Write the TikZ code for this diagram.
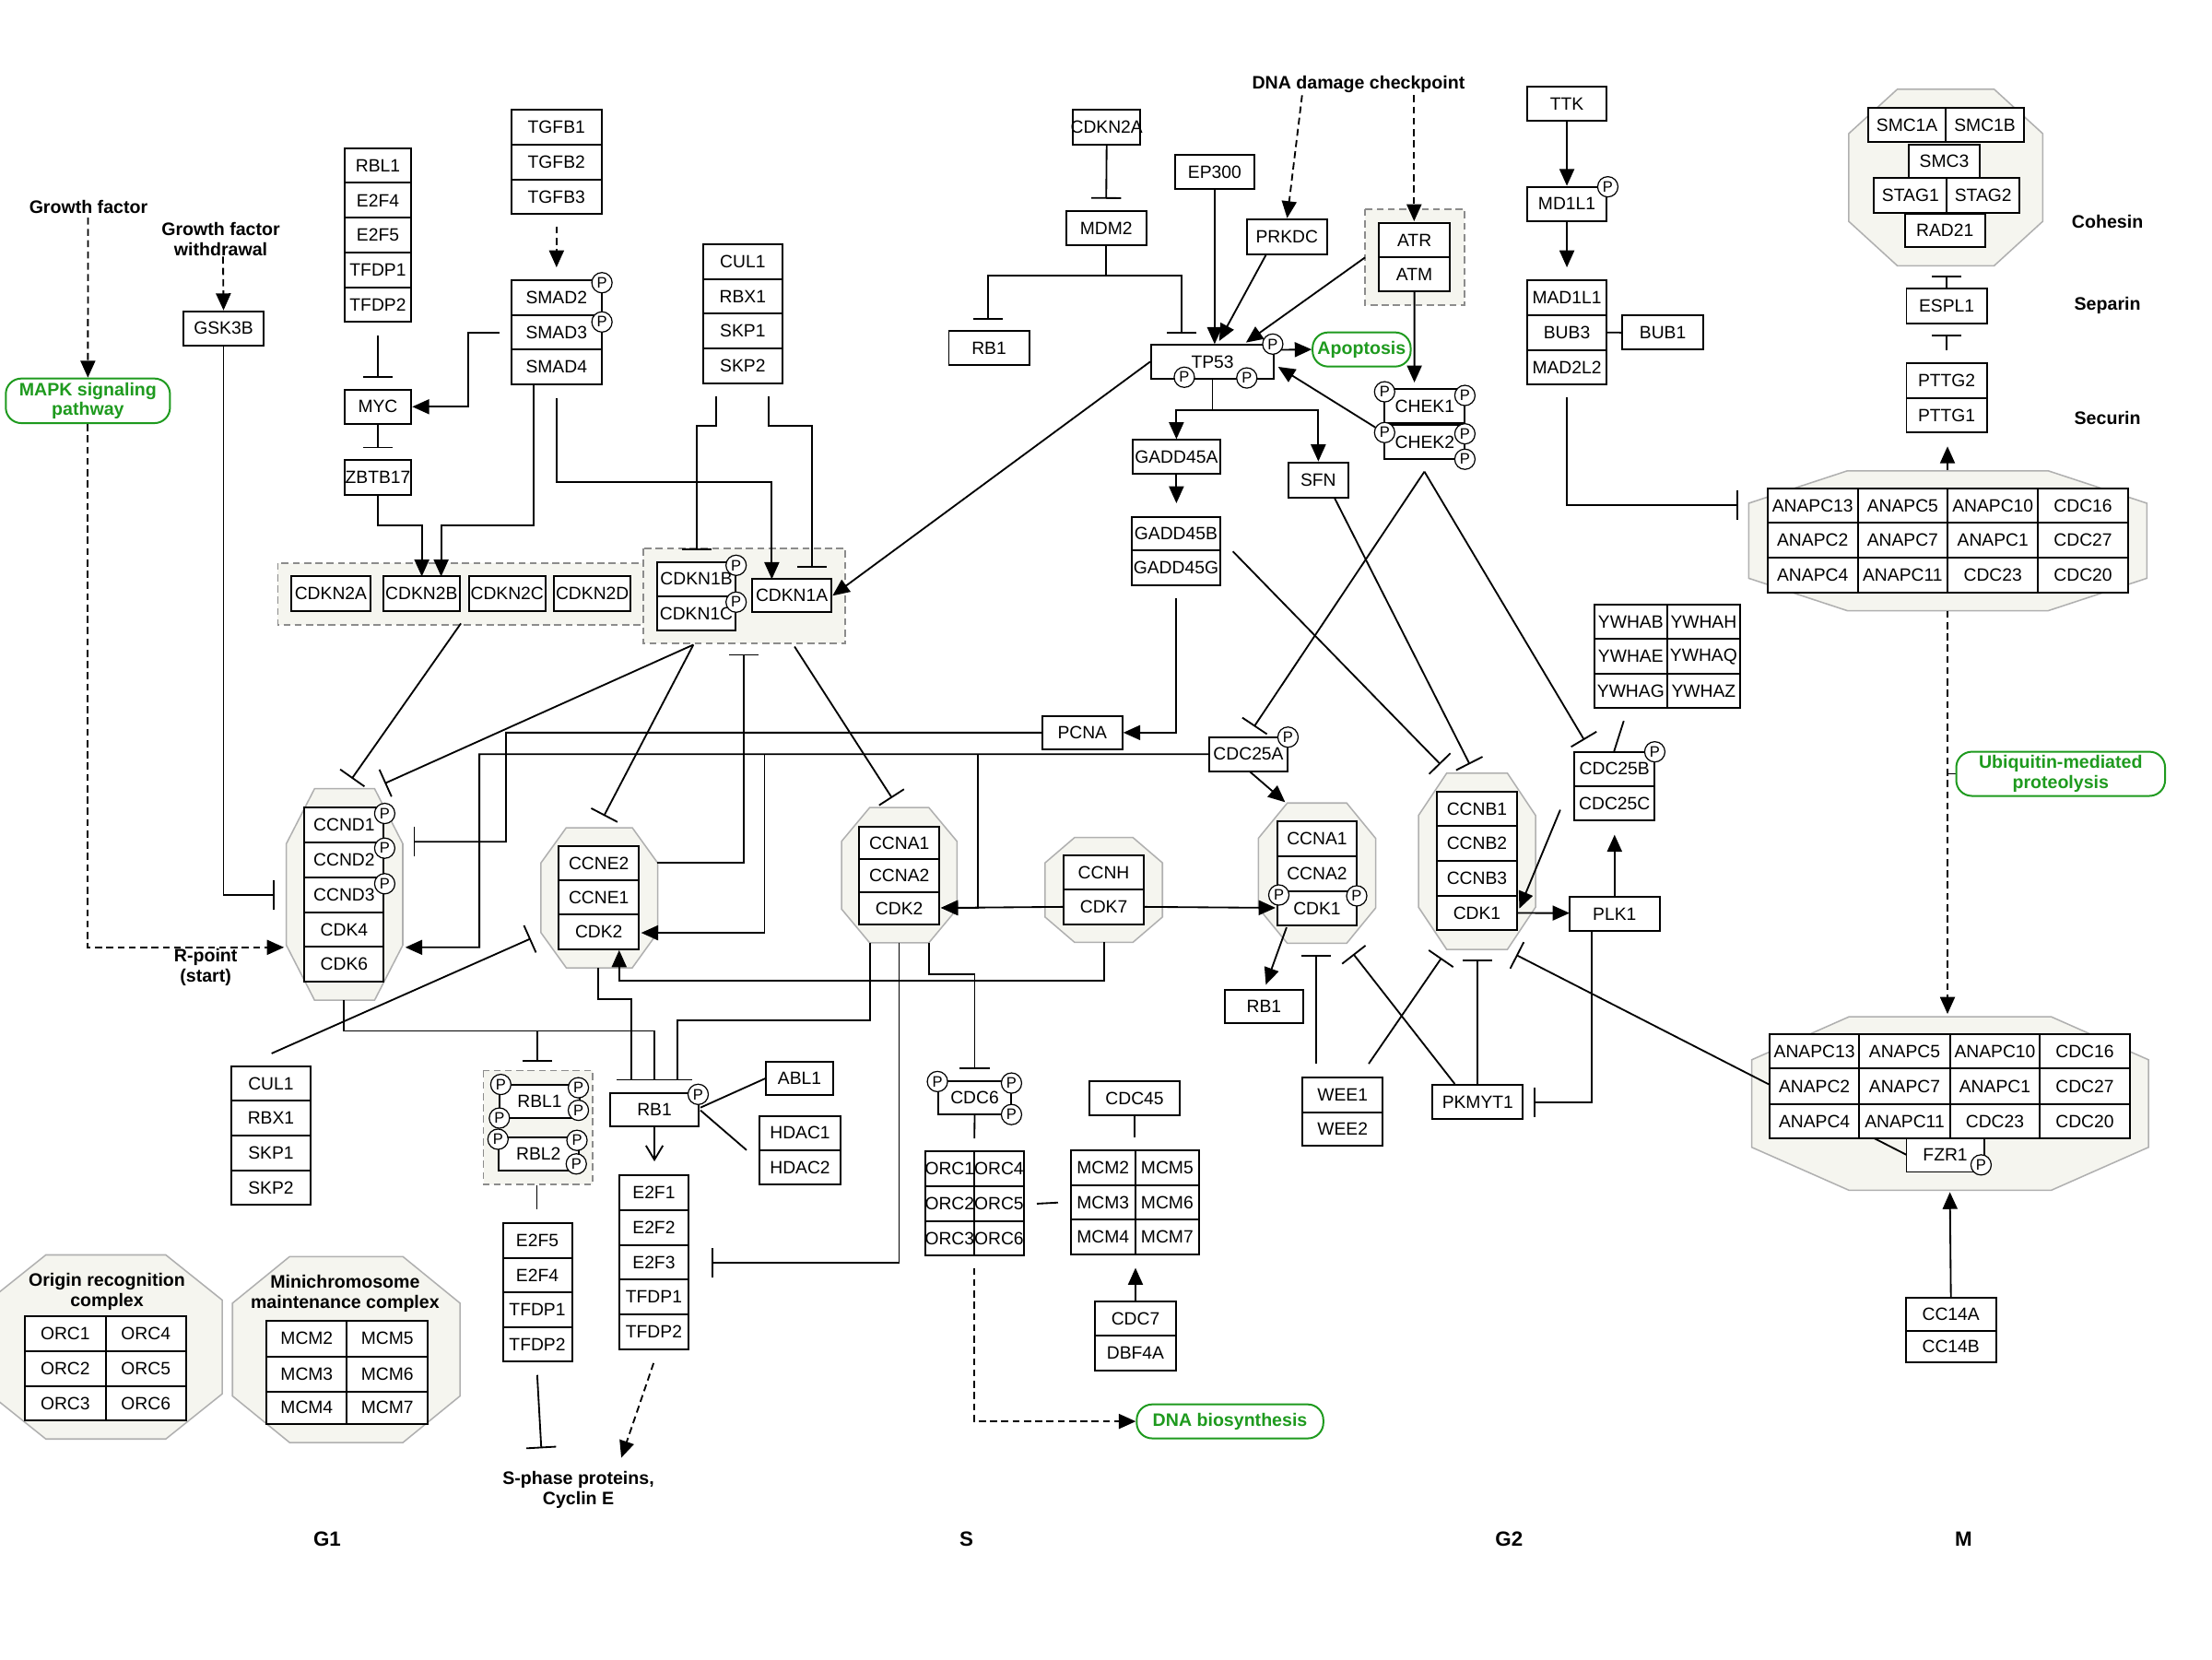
\documentclass[tikz,border=0pt]{standalone}
\usepackage{fontspec}
\setmainfont{Liberation Sans}
\usetikzlibrary{arrows.meta,calc}
\pgfdeclarelayer{bg}\pgfdeclarelayer{mid}\pgfsetlayers{bg,mid,main}
\definecolor{cfill}{HTML}{F5F5EF}
\definecolor{cedge}{HTML}{B0B0B0}
\definecolor{gedge}{HTML}{8C8C8C}
\definecolor{kgreen}{HTML}{1E9A1E}
\newcommand\kgfont{\fontsize{12.6}{14}\selectfont}
\newcommand\kgbold{\fontsize{12.8}{14.2}\selectfont\bfseries}
\newcommand\kgphase{\fontsize{14.6}{16}\selectfont\bfseries}
\newcommand\kgpf{\fontsize{10.8}{11}\selectfont}
\newcommand\kgb[6]{%
  \pgfmathsetmacro\kgW{#4-#2}\pgfmathsetmacro\kgH{#5-#3}%
  \node[gene, minimum width=\kgW pt, minimum height=\kgH pt] (#1) at ({(#2+#4)/2},{(#3+#5)/2}) {\makebox[0pt]{#6}};}
\newcommand\kgoct[6]{%
  \path[cpx] ({#1+#5},#2) -- ({#3-#5},#2) -- (#3,{#2+#6}) -- (#3,{#4-#6}) -- ({#3-#5},#4) -- ({#1+#5},#4) -- (#1,{#4-#6}) -- (#1,{#2+#6}) -- cycle;}
\newcommand\kgp[3]{\node[phos] (#1) at (#2,#3) {P};}
\tikzset{
  gene/.style={draw, line width=1.3pt, fill=white, inner sep=0pt, font=\kgfont},
  conn/.style={line width=1.2pt},
  act/.style={conn, -{Triangle[length=12pt,width=10.5pt]}},
  inh/.style={conn, -{Bar[width=21pt]}},
  dact/.style={act, dash pattern=on 5pt off 3pt},
  oact/.style={conn, -{Straight Barb[length=10pt,width=12pt]}},
  phos/.style={circle, draw, line width=0.8pt, fill=white, minimum size=14.4pt, inner sep=0pt, font=\kgpf},
  grp/.style={draw=gedge, line width=1.1pt, dash pattern=on 5pt off 3pt, fill=cfill},
  cpx/.style={draw=cedge, line width=1pt, fill=cfill},
  pathw/.style={draw=kgreen, line width=1.3pt, rounded corners=11pt, fill=white, text=kgreen, font=\kgbold, align=center, inner sep=0pt},
  lab/.style={font=\kgbold, align=center, inner sep=0pt},
  phase/.style={font=\kgphase, inner sep=0pt}
}
\begin{document}
\begin{tikzpicture}[x=1pt,y=-1pt]
\useasboundingbox (0,0) rectangle (1568,1176);
% ---------------- complexes / groups
\begin{pgfonlayer}{bg}
\fill[white] (0,0) rectangle (1568,1176);
\kgoct{203}{559}{285.5}{709}{20}{39}
\kgoct{383.4}{586.7}{466.2}{686}{18}{25}
\kgoct{596.5}{572.4}{678.4}{668.3}{20}{24}
\kgoct{740.8}{593.6}{824}{668}{21}{18}
\kgoct{892}{569.2}{975.1}{668.6}{20.5}{25}
\kgoct{1005.5}{548}{1088.5}{673}{20}{30}
\kgoct{1310.5}{63.2}{1448}{188.4}{34.5}{31.5}
\kgoct{1239.6}{333.7}{1521.8}{432.9}{70}{23}
\kgoct{1241.7}{720.7}{1523}{843.7}{69}{30.5}
\kgoct{-7.5}{889.5}{157.5}{1020}{40}{32}
\kgoct{164.8}{890.7}{326.1}{1022.5}{40.5}{33}
\path[grp] (196.9,399) rectangle (456.7,443);
\path[grp] (455.8,388.7) rectangle (599.3,456.2);
\path[grp] (967.6,148.1) rectangle (1038,216.3);
\path[grp] (342.7,758.8) rectangle (420,839.6);
\end{pgfonlayer}
% ---------------- labels
\node[lab] (gf) at (62.7,146.4) {Growth factor};
\node[lab] (gfw) at (156.5,169.3) {Growth factor\\withdrawal};
\node[lab] (rpt) at (145.8,685.6) {R-point\\(start)};
\node[lab] (dnad) at (963,60) {DNA damage checkpoint};
\node[lab] (sph) at (410,1056) {S-phase proteins,\\Cyclin E};
\node[lab] (coh) at (1493.9,156.8) {Cohesin};
\node[lab] (sep) at (1493.9,216.7) {Separin};
\node[lab] (sec) at (1493.9,296.2) {Securin};
\node[lab] (orct) at (75.8,915.5) {Origin recognition\\complex};
\node[lab] (mcmt) at (244.6,917) {Minichromosome\\maintenance complex};
\node[phase] (pgA) at (231.9,1091.2) {G1};
\node[phase] (pgB) at (685,1091.2) {S};
\node[phase] (pgC) at (1069.7,1091.2) {G2};
\node[phase] (pgD) at (1391.8,1091.2) {M};
\node[pathw, minimum width=116.4pt, minimum height=31.6pt] (mapk) at (62.3,284.1) {MAPK signaling\\pathway};
\node[pathw, minimum width=69.5pt, minimum height=24.2pt] (apop) at (965.2,247.7) {Apoptosis};
\node[pathw, minimum width=148pt, minimum height=31.3pt] (ubiq) at (1460.7,548.5) {Ubiquitin-mediated\\proteolysis};
\node[pathw, minimum width=132.3pt, minimum height=24.1pt] (dna) at (871.9,1007.5) {DNA biosynthesis};
% ---------------- genes: G1 top
\kgb{gsk}{130.2}{220.6}{186.7}{245}{GSK3B}
\kgb{rbla}{244.1}{105}{291.6}{129.6}{RBL1}
\kgb{efaa}{244.1}{129.6}{291.6}{154.3}{E2F4}
\kgb{efab}{244.1}{154.3}{291.6}{178.9}{E2F5}
\kgb{tfaa}{244.1}{178.9}{291.6}{203.6}{TFDP1}
\kgb{tfab}{244.1}{203.6}{291.6}{228.2}{TFDP2}
\kgb{myc}{244.1}{276.1}{291.6}{300.5}{MYC}
\kgb{zbtb}{244.1}{326.2}{291.6}{350.6}{ZBTB17}
\kgb{tgfba}{362.5}{78}{426.4}{102.6}{TGFB1}
\kgb{tgfbb}{362.5}{102.6}{426.4}{127.2}{TGFB2}
\kgb{tgfbc}{362.5}{127.2}{426.4}{151.8}{TGFB3}
\kgb{smadb}{362.5}{198.8}{426.4}{223.3}{SMAD2}
\kgb{smadc}{362.5}{223.3}{426.4}{247.8}{SMAD3}
\kgb{smadd}{362.5}{247.8}{426.4}{272.2}{SMAD4}
\kgb{culta}{498.2}{173.1}{554.8}{197.7}{CUL1}
\kgb{rbxt}{498.2}{197.7}{554.8}{222.4}{RBX1}
\kgb{skpta}{498.2}{222.4}{554.8}{247}{SKP1}
\kgb{skptb}{498.2}{247}{554.8}{271.6}{SKP2}
\kgb{ckna}{206.5}{408.6}{262.5}{433.2}{CDKN2A}
\kgb{cknb}{271.8}{408.6}{325.8}{433.2}{CDKN2B}
\kgb{cknc}{332.5}{408.6}{386.5}{433.2}{CDKN2C}
\kgb{cknd}{392.7}{408.6}{447.1}{433.2}{CDKN2D}
\kgb{cdkib}{465.6}{398.5}{521.6}{422.5}{CDKN1B}
\kgb{cdkic}{465.6}{422.5}{521.6}{446.9}{CDKN1C}
\kgb{cdkia}{533.1}{410.5}{589.5}{434}{CDKN1A}
% ---------------- top middle
\kgb{cdkntop}{760.7}{78}{808.2}{102.4}{CDKN2A}
\kgb{mdm}{755.7}{149.6}{812.6}{173.6}{MDM2}
\kgb{rbtop}{672.6}{234.8}{729.5}{258.7}{RB1}
\kgb{ep}{832.7}{109.8}{889.3}{134}{EP300}
\kgb{prk}{884}{155.7}{940.5}{180.1}{PRKDC}
\kgb{atr}{977.2}{157.9}{1028}{182.3}{ATR}
\kgb{atm}{977.2}{182.3}{1028}{206.5}{ATM}
\kgb{tp}{816}{244.4}{903}{268.3}{TP53}
\kgb{chka}{981.5}{276}{1038.4}{300}{CHEK1}
\kgb{chkb}{981.5}{301.5}{1038.4}{325.5}{CHEK2}
\kgb{gda}{803}{311.9}{864.8}{335.8}{GADD45A}
\kgb{gdb}{802.4}{366.2}{864.8}{390.3}{GADD45B}
\kgb{gdg}{802.4}{390.3}{864.8}{415}{GADD45G}
\kgb{sfn}{913.5}{327.7}{955.5}{352.8}{SFN}
\kgb{pcna}{738.8}{507.4}{795.6}{531.2}{PCNA}
\kgb{cdcva}{857}{522.5}{912.9}{546.6}{CDC25A}
% ---------------- M top
\kgb{ttk}{1082.6}{61.6}{1138.8}{85.6}{TTK}
\kgb{mdl}{1082.6}{132.4}{1138.8}{156.8}{MD1L1}
\kgb{madl}{1082.6}{198.6}{1138.8}{223.3}{MAD1L1}
\kgb{bubc}{1082.6}{223.3}{1138.8}{248}{BUB3}
\kgb{madt}{1082.6}{248}{1138.8}{272.7}{MAD2L2}
\kgb{buba}{1150.1}{223.7}{1207.2}{247.8}{BUB1}
\kgb{smca}{1324.3}{76.7}{1379.3}{100.6}{SMC1A}
\kgb{smcb}{1379.3}{76.7}{1434.7}{100.6}{SMC1B}
\kgb{smcc}{1353}{102.4}{1403.4}{126.3}{SMC3}
\kgb{staga}{1328.4}{126.3}{1380.1}{150.7}{STAG1}
\kgb{stagb}{1380.1}{126.3}{1431.4}{150.7}{STAG2}
\kgb{rad}{1350.1}{151.4}{1407.2}{175.3}{RAD21}
\kgb{espl}{1351.4}{204.7}{1408.4}{229.3}{ESPL1}
\kgb{pttgb}{1351.4}{257.6}{1408.4}{282}{PTTG2}
\kgb{pttga}{1351.4}{282}{1408.4}{306.6}{PTTG1}
% upper APC/C
\kgb{uaa}{1253}{346.2}{1316.8}{370.5}{ANAPC13}
\kgb{uab}{1316.8}{346.2}{1380.6}{370.5}{ANAPC5}
\kgb{uac}{1380.6}{346.2}{1444.7}{370.5}{ANAPC10}
\kgb{uad}{1444.7}{346.2}{1508.4}{370.5}{CDC16}
\kgb{uae}{1253}{370.5}{1316.8}{395.4}{ANAPC2}
\kgb{uaf}{1316.8}{370.5}{1380.6}{395.4}{ANAPC7}
\kgb{uag}{1380.6}{370.5}{1444.7}{395.4}{ANAPC1}
\kgb{uah}{1444.7}{370.5}{1508.4}{395.4}{CDC27}
\kgb{uai}{1253}{395.4}{1316.8}{419.9}{ANAPC4}
\kgb{uaj}{1316.8}{395.4}{1380.6}{419.9}{ANAPC11}
\kgb{uak}{1380.6}{395.4}{1444.7}{419.9}{CDC23}
\kgb{ual}{1444.7}{395.4}{1508.4}{419.9}{CDC20}
% lower APC/C
\kgb{lwa}{1254.3}{733.2}{1318}{757.4}{ANAPC13}
\kgb{lwb}{1318}{733.2}{1382.2}{757.4}{ANAPC5}
\kgb{lwc}{1382.2}{733.2}{1446}{757.4}{ANAPC10}
\kgb{lwd}{1446}{733.2}{1509.6}{757.4}{CDC16}
\kgb{lwe}{1254.3}{757.4}{1318}{782.4}{ANAPC2}
\kgb{lwf}{1318}{757.4}{1382.2}{782.4}{ANAPC7}
\kgb{lwg}{1382.2}{757.4}{1446}{782.4}{ANAPC1}
\kgb{lwh}{1446}{757.4}{1509.6}{782.4}{CDC27}
\kgb{lwi}{1254.3}{782.4}{1318}{807}{ANAPC4}
\kgb{lwj}{1318}{782.4}{1382.2}{807}{ANAPC11}
\kgb{lwk}{1382.2}{782.4}{1446}{807}{CDC23}
\kgb{lwl}{1446}{782.4}{1509.6}{807}{CDC20}
\kgb{fzr}{1351.4}{807}{1406.4}{830.7}{FZR1}
\kgb{cca}{1351}{920}{1414.8}{943.2}{CC14A}
\kgb{ccb}{1351}{943.2}{1414.8}{965.7}{CC14B}
% 14-3-3
\kgb{ywa}{1130.1}{428.5}{1181.8}{453}{YWHAB}
\kgb{ywb}{1181.8}{428.5}{1233.4}{453}{YWHAH}
\kgb{ywc}{1130.1}{453}{1181.8}{477.5}{YWHAE}
\kgb{ywd}{1181.8}{453}{1233.4}{477.5}{YWHAQ}
\kgb{ywe}{1130.1}{477.5}{1181.8}{501.7}{YWHAG}
\kgb{ywf}{1181.8}{477.5}{1233.4}{501.7}{YWHAZ}
\kgb{cdcvb}{1115.9}{532.9}{1173}{557.2}{CDC25B}
\kgb{cdcvc}{1115.9}{557.2}{1173}{581.7}{CDC25C}
\kgb{plk}{1112.6}{636}{1176.4}{660}{PLK1}
% CCNB/CDK1
\kgb{cnba}{1018.8}{561}{1075.1}{585.5}{CCNB1}
\kgb{cnbb}{1018.8}{585.5}{1075.1}{610}{CCNB2}
\kgb{cnbc}{1018.8}{610}{1075.1}{635}{CCNB3}
\kgb{cdkb}{1018.8}{635}{1075.1}{659.3}{CDK1}
% CCNA/CDK1
\kgb{cnaxa}{905.5}{582.2}{961.7}{606.7}{CCNA1}
\kgb{cnaxb}{905.5}{606.7}{961.7}{631.7}{CCNA2}
\kgb{cdka}{905.5}{631.7}{961.7}{656.2}{CDK1}
\kgb{rbr}{868}{701.9}{924}{725.2}{RB1}
\kgb{weea}{923.4}{763.8}{980}{788.4}{WEE1}
\kgb{weeb}{923.4}{788.4}{980}{812.3}{WEE2}
\kgb{pkm}{1015.5}{769.2}{1079.5}{793.2}{PKMYT1}
% CCND/CDK4/6
\kgb{cnda}{215.8}{572.5}{272.1}{597.2}{CCND1}
\kgb{cndb}{215.8}{597.2}{272.1}{621.8}{CCND2}
\kgb{cndc}{215.8}{621.8}{272.1}{646.5}{CCND3}
\kgb{cdkd}{215.8}{646.5}{272.1}{671.1}{CDK4}
\kgb{cdkf}{215.8}{671.1}{272.1}{695.8}{CDK6}
% CCNE/CDK2
\kgb{cnea}{396.1}{599.5}{452.9}{624}{CCNE2}
\kgb{cneb}{396.1}{624}{452.9}{648.4}{CCNE1}
\kgb{cdke}{396.1}{648.4}{452.9}{672.9}{CDK2}
% CCNA/CDK2
\kgb{cnaa}{609}{585.8}{665.9}{609}{CCNA1}
\kgb{cnab}{609}{609}{665.9}{632.3}{CCNA2}
\kgb{cdkc}{609}{632.3}{665.9}{655.5}{CDK2}
% CCNH/CDK7
\kgb{cnh}{754}{606.4}{810.8}{630.6}{CCNH}
\kgb{cdkg}{754}{630.6}{810.8}{655}{CDK7}
% lower SCF
\kgb{culla}{163.9}{755.7}{220.2}{780.3}{CUL1}
\kgb{rbxl}{163.9}{780.3}{220.2}{805}{RBX1}
\kgb{skpla}{163.9}{805}{220.2}{829.6}{SKP1}
\kgb{skplb}{163.9}{829.6}{220.2}{854.2}{SKP2}
\kgb{rblx}{354}{768.7}{411}{792.5}{RBL1}
\kgb{rbly}{353.5}{806}{410}{829.7}{RBL2}
\kgb{efba}{356.4}{867}{405.4}{891.5}{E2F5}
\kgb{efbb}{356.4}{891.5}{405.4}{916}{E2F4}
\kgb{tfba}{356.4}{916}{405.4}{940.5}{TFDP1}
\kgb{tfbb}{356.4}{940.5}{405.4}{965}{TFDP2}
\kgb{rbb}{432.4}{774.6}{495.4}{798.2}{RB1}
\kgb{abl}{543.2}{752.4}{590.4}{776.4}{ABL1}
\kgb{hda}{538.5}{791}{595.7}{815.3}{HDAC1}
\kgb{hdb}{538.5}{815.3}{595.7}{839.6}{HDAC2}
\kgb{efca}{439}{833.2}{488}{857.8}{E2F1}
\kgb{efcb}{439}{857.8}{488}{882.4}{E2F2}
\kgb{efcc}{439}{882.4}{488}{907}{E2F3}
\kgb{tfca}{439}{907}{488}{931.6}{TFDP1}
\kgb{tfcb}{439}{931.6}{488}{956.2}{TFDP2}
\kgb{cdcs}{665.2}{766.2}{716.6}{790}{CDC6}
% ORC in S
\kgb{osa}{655.7}{816.2}{690.6}{840.7}{ORC1}
\kgb{osb}{690.6}{816.2}{725.7}{840.7}{ORC4}
\kgb{osc}{655.7}{840.7}{690.6}{865.4}{ORC2}
\kgb{osd}{690.6}{840.7}{725.7}{865.4}{ORC5}
\kgb{ose}{655.7}{865.4}{690.6}{890}{ORC3}
\kgb{osf}{690.6}{865.4}{725.7}{890}{ORC6}
% MCM in S
\kgb{msa}{759}{815.4}{804.7}{840}{MCM2}
\kgb{msb}{804.7}{815.4}{850}{840}{MCM5}
\kgb{msc}{759}{840}{804.7}{864.6}{MCM3}
\kgb{msd}{804.7}{840}{850}{864.6}{MCM6}
\kgb{mse}{759}{864.6}{804.7}{889.2}{MCM4}
\kgb{msf}{804.7}{864.6}{850}{889.2}{MCM7}
\kgb{cdcf}{772.3}{766.2}{836.3}{790.7}{CDC45}
\kgb{cdcg}{776.4}{922.4}{833.4}{946.7}{CDC7}
\kgb{dbf}{776.4}{946.7}{833.4}{971.2}{DBF4A}
% ORC complex (legend)
\kgb{oca}{17.5}{933.2}{75}{957.9}{ORC1}
\kgb{ocb}{75}{933.2}{131.8}{957.9}{ORC4}
\kgb{occ}{17.5}{957.9}{75}{982.4}{ORC2}
\kgb{ocd}{75}{957.9}{131.8}{982.4}{ORC5}
\kgb{oce}{17.5}{982.4}{75}{1007}{ORC3}
\kgb{ocf}{75}{982.4}{131.8}{1007}{ORC6}
% MCM complex (legend)
\kgb{mca}{189}{936.3}{245.9}{961.4}{MCM2}
\kgb{mcb}{245.9}{936.3}{303.3}{961.4}{MCM5}
\kgb{mcc}{189}{961.4}{245.9}{986.2}{MCM3}
\kgb{mcd}{245.9}{961.4}{303.3}{986.2}{MCM6}
\kgb{mce}{189}{986.2}{245.9}{1009.5}{MCM4}
\kgb{mcf}{245.9}{986.2}{303.3}{1009.5}{MCM7}
% ---------------- phosphorylation marks
\kgp{pSa}{426.7}{200.4}\kgp{pSb}{426.7}{228.2}
\kgp{pKa}{521.8}{400.7}\kgp{pKb}{521.8}{426.8}
\kgp{pDa}{272.7}{576.6}\kgp{pDb}{272.7}{601.2}\kgp{pDc}{272.7}{626.4}
\kgp{pTa}{839.5}{267.4}\kgp{pTb}{883.8}{267.9}\kgp{pTc}{902.2}{243.9}
\kgp{pCa}{981.5}{277.7}\kgp{pCb}{1038.4}{280.3}\kgp{pCc}{981.5}{306.6}\kgp{pCd}{1038.4}{307.5}\kgp{pCe}{1038.4}{325.5}
\kgp{pM}{1139.7}{132.4}
\kgp{pAa}{913}{522.5}
\kgp{pAb}{1173}{532.9}
\kgp{pXa}{906.5}{634.4}\kgp{pXb}{961.7}{635}
\kgp{pRa}{355}{768.7}\kgp{pRb}{410}{771}\kgp{pRc}{354}{792.5}\kgp{pRd}{410}{787}
\kgp{pRe}{353}{807.5}\kgp{pRf}{409}{808.3}\kgp{pRg}{408.5}{825}
\kgp{pB}{494.9}{775.7}
\kgp{pEa}{664.5}{766.6}\kgp{pEb}{717}{767.7}\kgp{pEc}{717}{790}
\kgp{pF}{1404.3}{825.7}
% ---------------- connectors
\begin{pgfonlayer}{mid}
\coordinate (rpA) at (201.3,671.5);
\draw[dact] (62.4,154.2) -- (mapk.north);
\draw[dact] (mapk.south) |- (rpA);
\draw[dact] (158.1,181.9) -- (gsk.north);
\coordinate (gskI) at (194.8,634.4);
\draw[inh] (gsk.south) |- (gskI);
\draw[inh] ($(tfab.south)+(0,9.2)$) -- ($(myc.north)+(0,-7.8)$);
\draw[inh] (myc.south) -- ($(zbtb.north)+(0,-7.8)$);
\draw[act] (zbtb.south) |- (299,372.4) -- (299,408.6);
\draw[act] (378.5,272.2) |- (312.7,372.4) -- (312.7,408.6);
\draw[dact] (394.5,160.5) -- (394.5,189.5);
\draw[act] (353.8,235.9) -- (331.9,235.9) |- (myc.east);
\draw[act] (394.6,282) |- (547.1,341.5) -- (547.1,410.5);
\draw[inh] (507.9,281) |- (493.7,301.6) -- (493.7,389.8);
\draw[inh] (545.1,281) |- (575.6,301.6) -- (575.6,402.2);
\draw[inh] (326.7,441.9) -- (249.4,551.9);
\draw[inh] (491.5,457) -- (272.7,555.3);
\draw[inh] (491.5,457) -- (428.1,578.3);
\draw[inh] (563.2,458.3) -- (632.3,565.6);
\draw[inh] (466.1,611.4) -- (527.3,611.4) -- (527.3,463.6);
\draw[act] (tp.west) -- (cdkia.east);
\draw[inh] (cdkntop.south) -- ($(mdm.north)+(0,-8)$);
\draw[inh] (mdm.south) |- (742,195.3) -| (700.6,226.9);
\draw[inh] (784.3,195.3) -| (837.8,236.7);
\draw[act] (ep.south) -- (861,243.9);
\draw[act] (897.7,180.1) -- (864.2,241.7);
\draw[act] (967.6,182.5) -- (883.2,242.8);
\draw[dact] (923,67.5) -- (912.4,154.6);
\draw[dact] (1002.4,67.5) -- (1002.4,156.8);
\draw[act] (atm.south) -- (1002.6,271.1);
\draw[act] (903,248) -- (apop.west);
\draw[act] (975,303) -- (906,260);
\draw[act] (tp.south) |- (846,290.7) -| (gda.north);
\draw[act] (859.5,290.7) -| (sfn.north);
\draw[act] (gda.south) -- (833.9,356.7);
\draw[act] (833.6,424.2) |- (pcna.east);
\draw[inh] (pcna.west) -- (358.7,519.3) -- (358.7,596.6) -- (293.1,596.6);
\draw[act] (cdcva.west) -- (339.8,534.6) -- (339.8,671.5) -- (287.3,671.5);
\draw[act] (541.9,534.6) -- (541.9,661.2) -- (454.5,661.2);
\draw[act] (693,534.6) -- (693,643.5) -- (667,643.5);
\draw[act] (cdkg.west) -- (667,643.5);
\draw[act] (cdkg.east) -- (904.2,643.5);
\draw[act] (782.8,668) -- (782.8,695.2) -- (438.9,695.2) -- (438.9,673.5);
\draw[act] (886,547) -- (911,568.6);
\draw[act] (912,657.3) -- (897.3,698);
\draw[inh] (1009.7,334.3) -- (889,515);
\draw[inh] (1009.7,334.3) -- (1123,524.5);
\draw[inh] (946,353) -- (1041.8,541.7);
\draw[inh] (873.9,390.8) -- (1021,541.7);
\draw[conn] (1151,511) -- (1144,533);
\draw[act] (1106,574) -- (1077,644);
\draw[act] (cdkb.east) -- (1112.6,647.2);
\draw[act] (plk.north) -- (1144.5,591.7);
\draw[inh] (1128.1,660) -- (1128.1,781.2) -- (1087.4,781.2);
\draw[inh] (933.2,754) -- (933.2,676.9);
\draw[inh] (970.2,754) -- (1021.8,679);
\draw[inh] (1031.2,768.3) -- (959.3,676.2);
\draw[inh] (pkm.north) -- (1047.5,680.1);
\draw[inh] (1351.5,818.6) -- (1074.8,676.9);
\draw[inh] (192.5,746.7) -- (376.2,665.3);
\draw[inh] (243.6,708.9) -- (243.6,730.7) -- (464,730.7) -- (464,766);
\draw[inh] (381,730.7) -- (381,752.4);
\draw[inh] (424.2,686) -- (424.2,708.2) -- (447.5,708.2) -- (447.5,766);
\draw[inh] (616.8,668.3) -- (616.8,723) -- (480.2,723) -- (480.2,766);
\draw[inh] (637.3,668.3) -- (637.3,895) -- (504.6,895);
\draw[inh] (658.3,668.3) -- (658.3,690.4) -- (690.9,690.4) -- (690.9,757.9);
\draw[conn] (380.6,839.9) -- (380.6,857.4);
\draw[inh] (380.8,974.6) -- (383.7,1026.6);
\draw[oact] (rbb.south) -- (463.9,823.2);
\draw[dact] (463.3,966.2) -- (440.4,1033.3);
\draw[conn] (496.5,785.1) -- (abl.west);
\draw[conn] (496.5,787) -- (529.2,815.2);
\draw[conn] (cdcs.south) -- (690.7,806.9);
\draw[conn] (735,853.2) -- (750,852.4);
\draw[conn] (cdcf.south) -- (804.3,806.2);
\draw[act] (cdcg.north) -- (804.9,898.7);
\draw[dact] (690.6,898.7) |- (dna.west);
\draw[act] (ttk.south) -- (mdl.north);
\draw[act] (mdl.south) -- (1110.7,189.5);
\draw[conn] (bubc.east) -- (buba.west);
\draw[inh] (1110.5,281.6) |- (1232.2,357.9);
\draw[inh] (espl.north) -- (1379.9,195.6);
\draw[inh] (1379.9,248.3) -- (1379.9,237);
\draw[act] (1380.5,333.2) -- (1380.5,316.4);
\draw[dact] (1380.5,432.9) -- (1380.5,718.7);
\draw[conn] (1381.4,548.5) -- (ubiq.west);
\draw[act] (cca.north) -- (1382.2,845);
\end{pgfonlayer}
\end{tikzpicture}
\end{document}
